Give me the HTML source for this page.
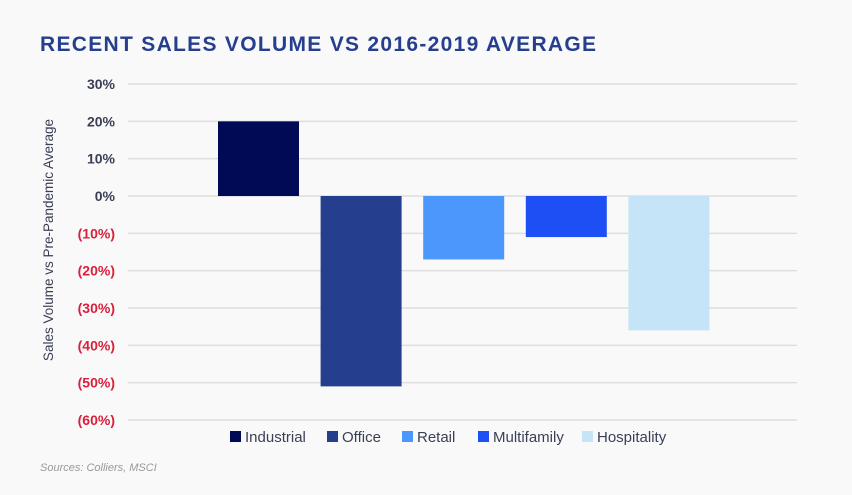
<!DOCTYPE html>
<html><head><meta charset="utf-8"><style>
body{margin:0;background:#f9f9f9;width:852px;height:490px;overflow:hidden;font-family:"Liberation Sans",sans-serif}
</style></head><body>
<svg id="chart" width="852" height="490">
<text x="40" y="51" font-size="21" font-weight="bold" fill="#253f8e" letter-spacing="1.3">RECENT SALES VOLUME VS 2016-2019 AVERAGE</text>
<text transform="translate(53,240) rotate(-90)" text-anchor="middle" font-size="13.5" fill="#3a3f55">Sales Volume vs Pre-Pandemic Average</text>
<text x="40" y="471" font-size="11" font-style="italic" fill="#999">Sources: Colliers, MSCI</text>
<g id="grid"></g><g id="bars"></g><g id="legend"></g>
</svg>
<script>
const categories=["Industrial","Office","Retail","Multifamily","Hospitality"];
const values=[20,-51,-17,-11,-36];
const colors=["#010a55","#253f8e","#4b97fb","#1e4ff5","#c6e4f7"];
const ticks=[30,20,10,0,-10,-20,-30,-40,-50,-60];
const tickLabels=["30%","20%","10%","0%","(10%)","(20%)","(30%)","(40%)","(50%)","(60%)"];
const legendX=[230,327,402,478,582];
const NS="http://www.w3.org/2000/svg";
function y(v){return 196-(v*3.733);}
function x(i){return 218+i*102.6;}
function mk(t,a,p){const e=document.createElementNS(NS,t);for(const k in a)e.setAttribute(k,a[k]);p.appendChild(e);return e;}
const grid=document.getElementById('grid');
ticks.forEach((t,i)=>{
 const l=mk('line',{x1:128,x2:797,y1:y(t),y2:y(t),stroke:'#dedede','stroke-width':1.5},grid);
 
 
 const tx=mk('text',{x:115,y:y(t)+5,'text-anchor':'end','font-size':14,'font-weight':'bold',fill:t<0?'#d81f3c':'#3a3f55'},grid);
 tx.textContent=tickLabels[i];
 
 
});
const bars=document.getElementById('bars');
values.forEach((v,i)=>{
 const r=mk('rect',{x:x(i),width:81,y:Math.min(y(v),y(0)),height:Math.abs(y(v)-y(0)),fill:colors[i]},bars);
 
 
});
const lg=document.getElementById('legend');
categories.forEach((c,i)=>{
 const s=mk('rect',{x:legendX[i],y:431,width:11,height:11,fill:colors[i]},lg);
 
 
 const t=mk('text',{x:legendX[i]+15,y:442,'font-size':15,fill:'#3a3f55'},lg);
 t.textContent=c;
 
 
});
</script>
</body></html>
